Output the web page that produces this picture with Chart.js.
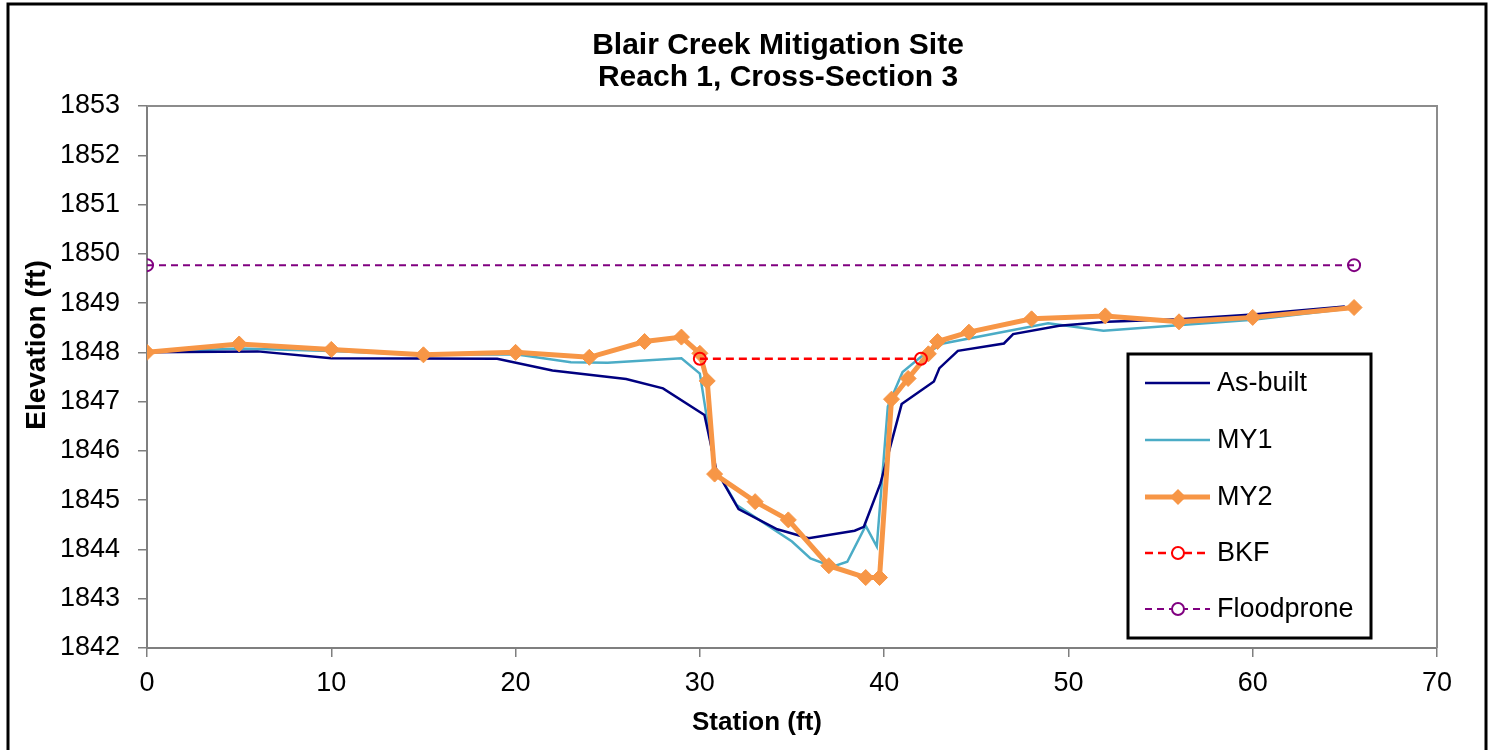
<!DOCTYPE html>
<html>
<head>
<meta charset="utf-8">
<script src="https://cdn.jsdelivr.net/npm/chart.js@4.4.1/dist/chart.umd.min.js"></script>
<style>
html,body{margin:0;padding:0;background:#fff;}
canvas{display:block;}
</style>
</head>
<body>
<canvas id="c" width="1492" height="750"></canvas>
<script>
// ---- text ----
const titleLines = ['Blair Creek Mitigation Site', 'Reach 1, Cross-Section 3'];
const xAxisTitle = 'Station (ft)';
const yAxisTitle = 'Elevation (ft)';
const seriesNames = ['As-built', 'MY1', 'MY2', 'BKF', 'Floodprone'];

// ---- tick labels ----
const xTicks = [0, 10, 20, 30, 40, 50, 60, 70];
const yTicks = [1842, 1843, 1844, 1845, 1846, 1847, 1848, 1849, 1850, 1851, 1852, 1853];

// ---- series ----
const asBuiltStation = [0, 6, 10, 19, 22, 26, 28, 30.25, 30.9, 32.1, 34.2, 35.9, 38.4, 38.9, 39.8, 40.95, 42.7, 43.0, 44.0, 46.5, 47.0, 49.5, 52.1, 56, 60, 65];
const asBuiltElev    = [1848.0, 1848.02, 1847.88, 1847.87, 1847.63, 1847.46, 1847.27, 1846.73, 1845.6, 1844.82, 1844.41, 1844.23, 1844.38, 1844.46, 1845.34, 1846.95, 1847.41, 1847.68, 1848.03, 1848.18, 1848.37, 1848.54, 1848.62, 1848.67, 1848.77, 1848.93];

const my1Station = [0, 5, 10, 15, 20, 23, 25, 29, 30, 30.8, 32, 35, 36, 37.2, 38, 39, 39.6, 40.2, 41, 42, 43.2, 48.9, 51.9, 60, 65.5];
const my1Elev    = [1848.0, 1848.08, 1848.03, 1847.95, 1847.96, 1847.8, 1847.79, 1847.88, 1847.57, 1845.68, 1844.9, 1844.16, 1843.82, 1843.65, 1843.75, 1844.48, 1844.06, 1846.9, 1847.6, 1847.91, 1848.18, 1848.59, 1848.44, 1848.66, 1848.9];

const my2Station = [0, 5, 10, 15, 20, 24, 27, 29, 30, 30.4, 30.8, 33, 34.8, 37, 39, 39.75, 40.4, 41.3, 42.4, 42.9, 44.6, 48, 52, 56, 60, 65.5];
const my2Elev    = [1848.0, 1848.17, 1848.06, 1847.95, 1848.0, 1847.9, 1848.22, 1848.31, 1847.98, 1847.42, 1845.53, 1844.97, 1844.6, 1843.67, 1843.43, 1843.43, 1847.05, 1847.47, 1847.97, 1848.22, 1848.41, 1848.68, 1848.74, 1848.62, 1848.71, 1848.91];

const bkfStation = [30, 42];
const bkfElev    = [1847.87, 1847.87];

const floodStation = [0, 65.5];
const floodElev    = [1849.77, 1849.77];

// ---- build ----
const FONT = "'Liberation Sans', Arial, sans-serif";
const pts = (xs, ys) => xs.map((x, i) => ({x: x, y: ys[i]}));

const datasets = [
  {label: seriesNames[0], data: pts(asBuiltStation, asBuiltElev), borderColor: '#000080', borderWidth: 2.5, pointRadius: 0, order: 3},
  {label: seriesNames[1], data: pts(my1Station, my1Elev), borderColor: '#4BACC6', borderWidth: 2.5, pointRadius: 0, order: 4},
  {label: seriesNames[2], data: pts(my2Station, my2Elev), borderColor: '#F79646', backgroundColor: '#F79646', borderWidth: 5, pointStyle: 'rectRot', pointRadius: 8, pointBorderWidth: 1, order: 2},
  {label: seriesNames[3], data: pts(bkfStation, bkfElev), borderColor: '#FF0000', borderWidth: 2.5, borderDash: [8, 5], pointStyle: 'circle', pointRadius: 6, pointBorderWidth: 2, pointBackgroundColor: 'rgba(0,0,0,0)', order: 0},
  {label: seriesNames[4], data: pts(floodStation, floodElev), borderColor: '#800080', borderWidth: 2, borderDash: [7, 5], pointStyle: 'circle', pointRadius: 6, pointBorderWidth: 2, pointBackgroundColor: 'rgba(0,0,0,0)', order: 1}
];

const decor = {
  id: 'decor',
  beforeDraw(chart) {
    const ctx = chart.ctx;
    ctx.save();
    ctx.fillStyle = '#fff';
    ctx.fillRect(0, 0, chart.width, chart.height);
    ctx.restore();
  },
  afterDraw(chart) {
    const ctx = chart.ctx;
    const a = chart.chartArea;
    ctx.save();
    // plot area frame (top and right)
    ctx.strokeStyle = '#8c8c8c';
    ctx.lineWidth = 2;
    ctx.beginPath();
    ctx.moveTo(a.left, a.top); ctx.lineTo(a.right, a.top); ctx.lineTo(a.right, a.bottom);
    ctx.stroke();

    // title
    ctx.fillStyle = '#000';
    ctx.textAlign = 'center';
    ctx.textBaseline = 'middle';
    ctx.font = 'bold 30px ' + FONT;
    ctx.fillText(titleLines[0], 778, 46);
    ctx.fillText(titleLines[1], 778, 78);

    // axis titles
    ctx.font = 'bold 26px ' + FONT;
    ctx.fillText(xAxisTitle, 757, 723);
    ctx.save();
    ctx.font = 'bold 28px ' + FONT;
    ctx.translate(37, 345);
    ctx.rotate(-Math.PI / 2);
    ctx.fillText(yAxisTitle, 0, 0);
    ctx.restore();

    // legend
    const lx = 1128, ly = 354, lw = 243, lh = 284;
    ctx.fillStyle = '#fff';
    ctx.fillRect(lx, ly, lw, lh);
    ctx.strokeStyle = '#000';
    ctx.lineWidth = 3;
    ctx.strokeRect(lx, ly, lw, lh);
    const rows = [383, 440, 497, 553, 609];
    chart.data.datasets.forEach((ds, i) => {
      const y = rows[i];
      ctx.save();
      ctx.strokeStyle = ds.borderColor;
      ctx.lineWidth = ds.borderWidth;
      ctx.setLineDash(ds.borderDash || []);
      ctx.beginPath();
      ctx.moveTo(1145, y); ctx.lineTo(1210, y);
      ctx.stroke();
      ctx.setLineDash([]);
      if (ds.pointRadius > 0) {
        if (ds.pointStyle === 'rectRot') {
          ctx.fillStyle = ds.borderColor;
          ctx.beginPath();
          ctx.moveTo(1178, y - 8); ctx.lineTo(1186, y); ctx.lineTo(1178, y + 8); ctx.lineTo(1170, y);
          ctx.closePath(); ctx.fill();
        } else {
          ctx.fillStyle = '#fff';
          ctx.lineWidth = 2;
          ctx.beginPath();
          ctx.arc(1178, y, 6, 0, Math.PI * 2);
          ctx.fill(); ctx.stroke();
        }
      }
      ctx.restore();
      ctx.fillStyle = '#000';
      ctx.textAlign = 'left';
      ctx.textBaseline = 'middle';
      ctx.font = '27px ' + FONT;
      ctx.fillText(ds.label, 1217, y + 1);
    });

    // outer frame
    ctx.strokeStyle = '#000';
    ctx.lineWidth = 3;
    ctx.strokeRect(8, 4, 1478, 760);
    ctx.restore();
  }
};

new Chart(document.getElementById('c'), {
  type: 'line',
  data: {datasets: datasets},
  options: {
    responsive: false,
    devicePixelRatio: 1,
    animation: false,
    layout: {padding: {top: 106, left: 0, right: 55, bottom: 0}},
    plugins: {legend: {display: false}, title: {display: false}, tooltip: {enabled: false}},
    elements: {line: {tension: 0, fill: false}},
    scales: {
      x: {
        type: 'linear',
        min: xTicks[0], max: xTicks[xTicks.length - 1],
        afterBuildTicks: s => { s.ticks = xTicks.map(v => ({value: v})); },
        afterFit: s => { s.height = 102; },
        ticks: {color: '#000', font: {family: FONT, size: 27}, padding: 10, maxRotation: 0, autoSkip: false, callback: v => String(v)},
        grid: {drawOnChartArea: false, drawTicks: true, tickLength: 9, color: '#7f7f7f', lineWidth: 1.5},
        border: {display: true, color: '#7f7f7f', width: 2}
      },
      y: {
        type: 'linear',
        min: yTicks[0], max: yTicks[yTicks.length - 1],
        afterBuildTicks: s => { s.ticks = yTicks.map(v => ({value: v})); },
        afterFit: s => { s.width = 147; },
        ticks: {color: '#000', font: {family: FONT, size: 27}, padding: 18, autoSkip: false, callback: v => String(v)},
        grid: {drawOnChartArea: false, drawTicks: true, tickLength: 9, color: '#7f7f7f', lineWidth: 1.5},
        border: {display: true, color: '#7f7f7f', width: 2}
      }
    }
  },
  plugins: [decor]
});
</script>
</body>
</html>
